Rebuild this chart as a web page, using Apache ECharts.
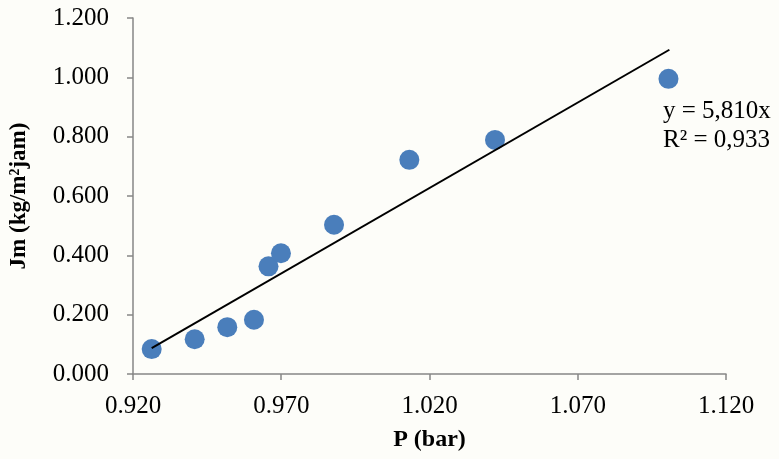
<!DOCTYPE html>
<html><head><meta charset="utf-8">
<script src="https://cdn.jsdelivr.net/npm/echarts@6/dist/echarts.min.js"></script>
<style>html,body{margin:0;padding:0;background:#fdfdf9}#c{width:779px;height:459px}</style>
</head><body><div id="c"></div>
<script>
const pressure = [0.9263, 0.9408, 0.9518, 0.9608, 0.9657, 0.9699, 0.9878, 1.0132, 1.0421, 1.1006];
const flux = [0.084, 0.117, 0.158, 0.183, 0.363, 0.407, 0.503, 0.722, 0.789, 0.995];
const trendX = [0.9263, 1.1009];
const trendY = [0.087, 1.093];
const xTicks = [0.920, 0.970, 1.020, 1.070, 1.120];
const yTicks = [0.000, 0.200, 0.400, 0.600, 0.800, 1.000, 1.200];
const eqLines = ['y = 5,810x', 'R² = 0,933'];

const font = '"Liberation Serif", "Times New Roman", serif';
const chart = echarts.init(document.getElementById('c'));
chart.setOption({
  backgroundColor: '#fdfdf9',
  animation: false,
  grid: {left: 131, right: 53, top: 18, bottom: 85},
  xAxis: {
    type: 'value', min: xTicks[0], max: xTicks[xTicks.length-1], interval: 0.05,
    name: 'P (bar)', nameLocation: 'middle', nameGap: 54,
    nameTextStyle: {fontFamily: font, fontSize: 24, fontWeight: 'bold', color: '#000'},
    axisLine: {lineStyle: {color: '#868686', width: 1.5}},
    axisTick: {show: true, length: 6, lineStyle: {color: '#868686', width: 1.5}},
    splitLine: {show: false},
    axisLabel: {fontFamily: font, fontSize: 25, color: '#000', margin: 20,
      formatter: v => v.toFixed(3)}
  },
  yAxis: {
    type: 'value', min: 0, max: 1.2, interval: 0.2,
    name: 'Jm (kg/m²jam)', nameLocation: 'middle', nameGap: 102,
    nameTextStyle: {fontFamily: font, fontSize: 23, fontWeight: 'bold', color: '#000'},
    axisLine: {show: true, lineStyle: {color: '#868686', width: 1.5}},
    axisTick: {show: true, length: 6, lineStyle: {color: '#868686', width: 1.5}},
    splitLine: {show: false},
    axisLabel: {fontFamily: font, fontSize: 25, color: '#000', margin: 24,
      formatter: v => v.toFixed(3)}
  },
  series: [
    {type: 'line', data: trendX.map((x, i) => [x, trendY[i]]), showSymbol: false, symbol: 'none',
      lineStyle: {color: '#000', width: 2}, z: 3},
    {type: 'scatter', data: pressure.map((x, i) => [x, flux[i]]), symbolSize: 20,
      itemStyle: {color: '#4a7ebb', opacity: 1}, z: 2}
  ],
  graphic: [{
    type: 'text', left: 663, top: 97,
    style: {text: eqLines.join('\n'), font: '25px ' + font, fill: '#000', lineHeight: 29}
  }]
});
</script></body></html>
